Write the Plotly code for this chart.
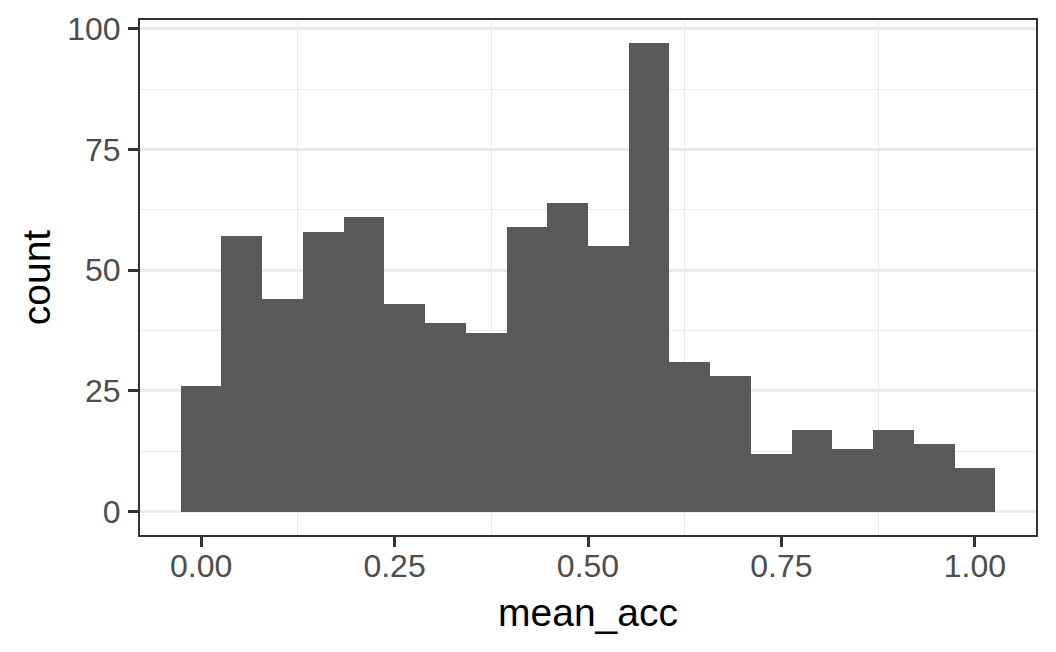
import plotly.graph_objects as go

bin_width = 1 / 19
bin_centers = [i / 19 for i in range(20)]
counts = [26, 57, 44, 58, 61, 43, 39, 37, 59, 64, 55, 97, 31, 28, 12, 17, 13, 17, 14, 9]

x_ticks = [0.0, 0.25, 0.5, 0.75, 1.0]
x_tick_labels = ["0.00", "0.25", "0.50", "0.75", "1.00"]
x_minor = [0.125, 0.375, 0.625, 0.875]
y_ticks = [0, 25, 50, 75, 100]
y_tick_labels = ["0", "25", "50", "75", "100"]
y_minor = [12.5, 37.5, 62.5, 87.5]

fig = go.Figure()
fig.add_trace(go.Bar(
    x=bin_centers, y=counts, width=bin_width,
    marker=dict(color="#595959", line=dict(width=0)),
    showlegend=False, hoverinfo="skip",
))

xmin = bin_centers[0] - bin_width / 2
xmax = bin_centers[-1] + bin_width / 2
xpad = 0.05 * (xmax - xmin)
ymax = max(counts)
ypad = 0.05 * ymax

axis_common = dict(
    automargin=False,
    showline=True, mirror=True, linecolor="#333333", linewidth=2,
    ticks="outside", ticklen=10, tickwidth=2.5, tickcolor="#333333",
    gridcolor="#EBEBEB", gridwidth=2.7,
    zeroline=False,
    tickfont=dict(family="Liberation Sans, Arial", size=32, color="#4D4D4D"),
    title_font=dict(family="Liberation Sans, Arial", size=39, color="#000000"),
)

# page body has an 8px margin, so the figure is 8px smaller and margins compensate
fig.update_layout(
    width=1048, height=644,
    margin=dict(l=132, r=20, t=12, b=117),
    paper_bgcolor="white", plot_bgcolor="white",
    bargap=0,
    xaxis=dict(
        range=[xmin - xpad, xmax + xpad],
        tickvals=x_ticks, ticktext=x_tick_labels,
        showgrid=False,
        title=dict(text="mean_acc", standoff=15),
        ticklabelstandoff=-8,
        minor=dict(tickvals=x_minor, showgrid=True,
                   gridcolor="#EBEBEB", gridwidth=1.2, ticks=""),
        **axis_common,
    ),
    yaxis=dict(
        range=[-ypad, ymax + ypad],
        tickvals=y_ticks, ticktext=y_tick_labels,
        showgrid=True,
        title=dict(text="count", standoff=5),
        ticklabelstandoff=1,
        minor=dict(tickvals=y_minor, showgrid=True,
                   gridcolor="#EBEBEB", gridwidth=1.2, ticks=""),
        **axis_common,
    ),
)

fig.write_html("out.html")
